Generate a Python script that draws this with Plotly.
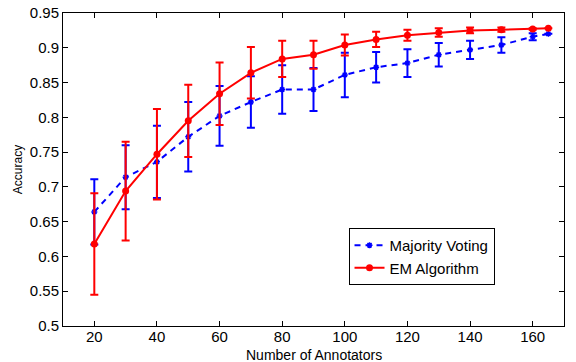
import plotly.graph_objects as go

annotators = [20, 30, 40, 50, 60, 70, 80, 90, 100, 110, 120, 130, 140, 150, 160, 165]

mv_acc = [0.664, 0.714, 0.736, 0.772, 0.802, 0.822, 0.840, 0.840, 0.861, 0.872, 0.878, 0.890, 0.897, 0.904, 0.916, 0.920]
mv_err = [0.047, 0.046, 0.052, 0.050, 0.043, 0.037, 0.035, 0.031, 0.032, 0.022, 0.020, 0.017, 0.013, 0.011, 0.005, 0.0]

em_acc = [0.618, 0.694, 0.747, 0.795, 0.834, 0.864, 0.884, 0.890, 0.904, 0.912, 0.918, 0.922, 0.925, 0.926, 0.927, 0.928]
em_err = [0.073, 0.071, 0.065, 0.052, 0.045, 0.037, 0.026, 0.020, 0.015, 0.011, 0.008, 0.006, 0.004, 0.003, 0.001, 0.0]

x_ticks = [20, 40, 60, 80, 100, 120, 140, 160]
y_ticks = [0.5, 0.55, 0.6, 0.65, 0.7, 0.75, 0.8, 0.85, 0.9, 0.95]
y_tick_labels = ["0.5", "0.55", "0.6", "0.65", "0.7", "0.75", "0.8", "0.85", "0.9", "0.95"]

x_title = "Number of Annotators"
y_title = "Accuracy"

fig = go.Figure()
fig.add_trace(go.Scatter(
    x=annotators, y=mv_acc, name="Majority Voting", mode="lines+markers",
    line=dict(color="#0000ff", width=2, dash="6px,5px"),
    marker=dict(symbol="asterisk", size=5, color="#0000ff", line=dict(color="#0000ff", width=1.5)),
    error_y=dict(type="data", array=mv_err, visible=True, color="#0000ff", thickness=2, width=4),
))
fig.add_trace(go.Scatter(
    x=annotators, y=em_acc, name="EM Algorithm", mode="lines+markers",
    line=dict(color="#ff0000", width=2),
    marker=dict(symbol="circle", size=7, color="#ff0000"),
    error_y=dict(type="data", array=em_err, visible=True, color="#ff0000", thickness=2, width=4),
))

font_family = "Liberation Sans, Arial, sans-serif"
axis_common = dict(showline=True, linecolor="black", linewidth=1, mirror="ticks",
                   ticks="inside", ticklen=5, tickcolor="black", showgrid=False, zeroline=False,
                   automargin=False,
                   tickfont=dict(family=font_family, size=15, color="black"))

fig.update_xaxes(range=[10, 170], tickvals=x_ticks, ticklabelstandoff=-3, **axis_common)
fig.update_yaxes(range=[0.5, 0.95], tickvals=y_ticks, ticktext=y_tick_labels,
                 title=dict(text=y_title, font=dict(family=font_family, size=12, color="black"), standoff=4),
                 **axis_common)

fig.add_annotation(text=x_title, xref="paper", yref="paper", x=0.5, y=-0.092,
                   xanchor="center", yanchor="middle", showarrow=False,
                   font=dict(family=font_family, size=14, color="black"))

fig.update_layout(
    width=576, height=362,
    margin=dict(l=63, r=12, t=13, b=36, autoexpand=False),
    paper_bgcolor="white", plot_bgcolor="white",
    showlegend=True,
    legend=dict(x=0.7156, y=0.222, xanchor="center", yanchor="middle",
                bgcolor="white", bordercolor="black", borderwidth=1,
                font=dict(family=font_family, size=15, color="black"),
                tracegroupgap=0, itemwidth=30),
)

fig.write_html("out.html")
